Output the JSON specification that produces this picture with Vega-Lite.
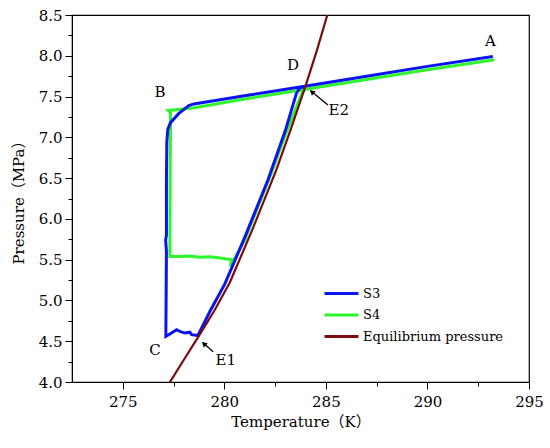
{
  "$schema": "https://vega.github.io/schema/vega-lite/v6.json",
  "width": 457,
  "height": 367,
  "autosize": {"type": "none"},
  "padding": {"left": 72, "top": 15, "right": 21, "bottom": 66},
  "background": "white",
  "config": {
    "view": {"stroke": "black", "strokeWidth": 1.2},
    "axis": {
      "grid": false,
      "domainColor": "black",
      "tickColor": "black",
      "labelColor": "black",
      "titleColor": "black",
      "labelFont": "DejaVu Serif",
      "titleFont": "DejaVu Serif, Noto Sans CJK SC",
      "labelFontSize": 15,
      "titleFontSize": 15,
      "titleFontWeight": "normal"
    },
    "legend": {
      "labelFont": "DejaVu Serif",
      "labelFontSize": 13,
      "labelColor": "black"
    }
  },
  "datasets": {
    "curves": [
      {"series": "S4", "i": 0, "T": 293.3, "P": 7.95},
      {"series": "S4", "i": 1, "T": 290.0, "P": 7.83},
      {"series": "S4", "i": 2, "T": 287.0, "P": 7.71},
      {"series": "S4", "i": 3, "T": 284.0, "P": 7.59},
      {"series": "S4", "i": 4, "T": 281.0, "P": 7.47},
      {"series": "S4", "i": 5, "T": 278.46, "P": 7.36},
      {"series": "S4", "i": 6, "T": 277.24, "P": 7.33},
      {"series": "S4", "i": 7, "T": 277.35, "P": 7.3},
      {"series": "S4", "i": 8, "T": 277.35, "P": 7.2},
      {"series": "S4", "i": 9, "T": 277.33, "P": 6.5},
      {"series": "S4", "i": 10, "T": 277.32, "P": 5.54},
      {"series": "S4", "i": 11, "T": 277.8, "P": 5.54},
      {"series": "S4", "i": 12, "T": 278.3, "P": 5.545},
      {"series": "S4", "i": 13, "T": 278.8, "P": 5.53},
      {"series": "S4", "i": 14, "T": 279.3, "P": 5.535},
      {"series": "S4", "i": 15, "T": 279.8, "P": 5.52},
      {"series": "S4", "i": 16, "T": 280.35, "P": 5.5},
      {"series": "S4", "i": 17, "T": 280.3, "P": 5.42},
      {"series": "S4", "i": 18, "T": 281.0, "P": 5.74},
      {"series": "S4", "i": 19, "T": 282.3, "P": 6.55},
      {"series": "S4", "i": 20, "T": 283.0, "P": 7.03},
      {"series": "S4", "i": 21, "T": 283.85, "P": 7.56},
      {"series": "S4", "i": 22, "T": 284.0, "P": 7.59},
      {"series": "S3", "i": 0, "T": 293.22, "P": 7.99},
      {"series": "S3", "i": 1, "T": 290.0, "P": 7.87},
      {"series": "S3", "i": 2, "T": 287.0, "P": 7.75},
      {"series": "S3", "i": 3, "T": 284.04, "P": 7.63},
      {"series": "S3", "i": 4, "T": 281.0, "P": 7.51},
      {"series": "S3", "i": 5, "T": 278.5, "P": 7.41},
      {"series": "S3", "i": 6, "T": 278.25, "P": 7.39},
      {"series": "S3", "i": 7, "T": 277.75, "P": 7.29},
      {"series": "S3", "i": 8, "T": 277.35, "P": 7.18},
      {"series": "S3", "i": 9, "T": 277.22, "P": 7.1},
      {"series": "S3", "i": 10, "T": 277.17, "P": 6.95},
      {"series": "S3", "i": 11, "T": 277.15, "P": 6.5},
      {"series": "S3", "i": 12, "T": 277.15, "P": 5.8},
      {"series": "S3", "i": 13, "T": 277.11, "P": 5.74},
      {"series": "S3", "i": 14, "T": 277.15, "P": 5.6},
      {"series": "S3", "i": 15, "T": 277.12, "P": 4.56},
      {"series": "S3", "i": 16, "T": 277.4, "P": 4.6},
      {"series": "S3", "i": 17, "T": 277.65, "P": 4.64},
      {"series": "S3", "i": 18, "T": 277.81, "P": 4.62},
      {"series": "S3", "i": 19, "T": 278.06, "P": 4.6},
      {"series": "S3", "i": 20, "T": 278.3, "P": 4.61},
      {"series": "S3", "i": 21, "T": 278.39, "P": 4.58},
      {"series": "S3", "i": 22, "T": 278.7, "P": 4.57},
      {"series": "S3", "i": 23, "T": 279.3, "P": 4.87},
      {"series": "S3", "i": 24, "T": 280.02, "P": 5.2},
      {"series": "S3", "i": 25, "T": 281.0, "P": 5.77},
      {"series": "S3", "i": 26, "T": 282.15, "P": 6.48},
      {"series": "S3", "i": 27, "T": 283.0, "P": 7.08},
      {"series": "S3", "i": 28, "T": 283.55, "P": 7.54},
      {"series": "S3", "i": 29, "T": 283.7, "P": 7.6},
      {"series": "S3", "i": 30, "T": 284.04, "P": 7.63},
      {"series": "Equilibrium pressure", "i": 0, "T": 277.2, "P": 3.95},
      {"series": "Equilibrium pressure", "i": 1, "T": 278.0, "P": 4.27},
      {"series": "Equilibrium pressure", "i": 2, "T": 278.71, "P": 4.55},
      {"series": "Equilibrium pressure", "i": 3, "T": 279.5, "P": 4.87},
      {"series": "Equilibrium pressure", "i": 4, "T": 280.27, "P": 5.22},
      {"series": "Equilibrium pressure", "i": 5, "T": 281.4, "P": 5.88},
      {"series": "Equilibrium pressure", "i": 6, "T": 282.56, "P": 6.6},
      {"series": "Equilibrium pressure", "i": 7, "T": 283.3, "P": 7.12},
      {"series": "Equilibrium pressure", "i": 8, "T": 284.0, "P": 7.63},
      {"series": "Equilibrium pressure", "i": 9, "T": 284.55, "P": 8.06},
      {"series": "Equilibrium pressure", "i": 10, "T": 285.07, "P": 8.5},
      {"series": "Equilibrium pressure", "i": 11, "T": 285.2, "P": 8.6}
    ],
    "labels": [
      {"text": "A", "T": 293.1, "P": 8.18},
      {"text": "B", "T": 276.83, "P": 7.56},
      {"text": "D", "T": 283.38, "P": 7.89},
      {"text": "C", "T": 276.58, "P": 4.39},
      {"text": "E2", "T": 285.63, "P": 7.34},
      {"text": "E1", "T": 280.07, "P": 4.27}
    ],
    "arrows": [
      {"T1": 285.1, "P1": 7.396, "T2": 284.25, "P2": 7.57, "Th": 284.31, "Ph": 7.557},
      {"T1": 279.45, "P1": 4.371, "T2": 278.95, "P2": 4.48, "Th": 278.99, "Ph": 4.469}
    ]
  },
  "encoding": {
    "x": {
      "type": "quantitative",
      "scale": {"domain": [272.5, 295], "nice": false, "zero": false},
      "axis": {
        "title": "Temperature（K）",
        "values": [275, 277.5, 280, 282.5, 285, 287.5, 290, 292.5, 295],
        "labelExpr": "datum.value % 5 === 0 ? datum.label : ''",
        "tickSize": {"expr": "datum.value % 5 === 0 ? 7 : 4"},
        "labelPadding": 5,
        "titlePadding": 5,
        "labelFlush": false
      }
    },
    "y": {
      "type": "quantitative",
      "scale": {"domain": [4, 8.5], "nice": false, "zero": false},
      "axis": {
        "title": "Pressure（MPa）",
        "values": [4, 4.25, 4.5, 4.75, 5, 5.25, 5.5, 5.75, 6, 6.25, 6.5, 6.75, 7, 7.25, 7.5, 7.75, 8, 8.25, 8.5],
        "format": ".1f",
        "labelExpr": "(datum.value * 2) % 1 === 0 ? datum.label : ''",
        "tickSize": {"expr": "(datum.value * 2) % 1 === 0 ? 7 : 4"},
        "labelPadding": 3,
        "titlePadding": 12,
        "labelFlush": false
      }
    }
  },
  "layer": [
    {
      "data": {"name": "curves"},
      "transform": [{"filter": "datum.series === 'S4'"}],
      "mark": {"type": "line", "strokeWidth": 3, "clip": true},
      "encoding": {
        "x": {"field": "T", "type": "quantitative"},
        "y": {"field": "P", "type": "quantitative"},
        "order": {"field": "i", "type": "quantitative"},
        "color": {
          "field": "series",
          "type": "nominal",
          "scale": {"domain": ["S3", "S4", "Equilibrium pressure"], "range": ["#0a14f0", "#2cf52c", "#7a0c0c"]},
          "legend": {
            "title": null,
            "orient": "none",
            "legendX": 262,
            "legendY": 271,
            "padding": 0,
            "symbolType": "M-3,0L3,0",
            "symbolSize": 128,
            "symbolStrokeWidth": 3,
            "labelOffset": 14,
            "rowPadding": 6.5
          }
        }
      }
    },
    {
      "data": {"name": "curves"},
      "transform": [{"filter": "datum.series === 'S3'"}],
      "mark": {"type": "line", "strokeWidth": 3, "clip": true},
      "encoding": {
        "x": {"field": "T", "type": "quantitative"},
        "y": {"field": "P", "type": "quantitative"},
        "order": {"field": "i", "type": "quantitative"},
        "color": {"field": "series", "type": "nominal"}
      }
    },
    {
      "data": {"name": "curves"},
      "transform": [{"filter": "datum.series === 'Equilibrium pressure'"}],
      "mark": {"type": "line", "strokeWidth": 2.2, "clip": true},
      "encoding": {
        "x": {"field": "T", "type": "quantitative"},
        "y": {"field": "P", "type": "quantitative"},
        "order": {"field": "i", "type": "quantitative"},
        "color": {"field": "series", "type": "nominal"}
      }
    },
    {
      "data": {"name": "labels"},
      "mark": {"type": "text", "font": "DejaVu Serif", "fontSize": 15, "color": "black"},
      "encoding": {
        "x": {"field": "T", "type": "quantitative"},
        "y": {"field": "P", "type": "quantitative"},
        "text": {"field": "text"}
      }
    },
    {
      "data": {"name": "arrows"},
      "mark": {"type": "rule", "color": "black", "strokeWidth": 1.3},
      "encoding": {
        "x": {"field": "T1", "type": "quantitative"},
        "y": {"field": "P1", "type": "quantitative"},
        "x2": {"field": "T2"},
        "y2": {"field": "P2"}
      }
    },
    {
      "data": {"name": "arrows"},
      "mark": {"type": "point", "shape": "triangle-up", "angle": 310, "filled": true, "color": "black", "size": 35, "opacity": 1},
      "encoding": {
        "x": {"field": "Th", "type": "quantitative"},
        "y": {"field": "Ph", "type": "quantitative"}
      }
    }
  ]
}
